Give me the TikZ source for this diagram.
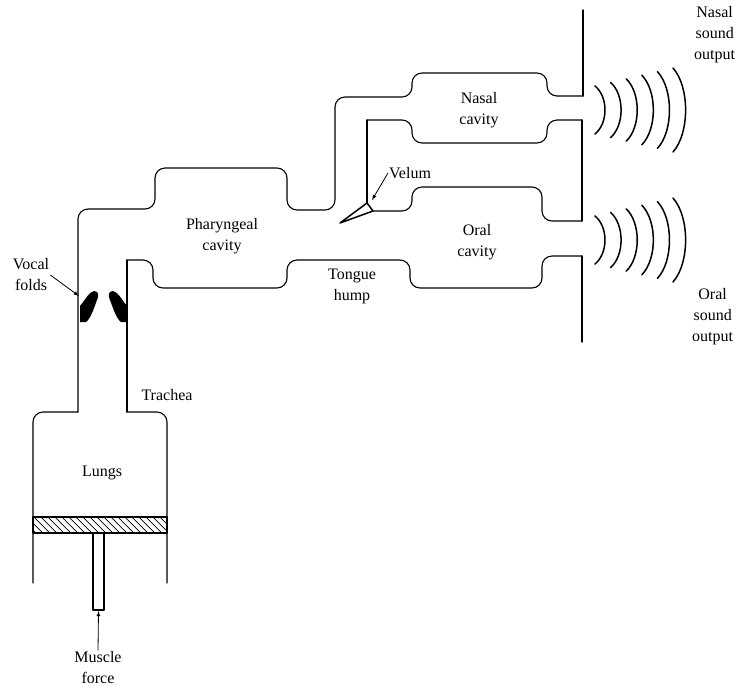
\documentclass[tikz,border=0pt]{standalone}
\usepackage{fontspec}
\setmainfont{Liberation Serif}

\begin{document}
\begin{tikzpicture}[x=1pt,y=-1pt,>=latex,
	wall/.style={line width=1.1pt,line cap=round,line join=round},
	wave/.style={line width=1.5pt,line cap=round},
	txt/.style={font=\fontsize{16}{21}\selectfont,align=center,inner sep=1pt}]

		\useasboundingbox (0,0) rectangle (738,686);

		% lungs and upper wall
		\draw[wall,rounded corners=10pt] (33,583) -- (33,412) -- (78,412);
		\draw[wall,rounded corners=10pt] (78,412) -- (78,209) -- ++(77,0) -- ++(0,-41) -- ++(132,0)
			-- ++(0,42) -- ++(48,0) -- ++(0,-113) -- ++(77,0) -- ++(0,-24) -- ++(135,0) -- ++(0,23) -- (583,96);
		\draw[wall] (583,96) -- (583,10);

		% lower wall
		\draw[wall,rounded corners=10pt] (167,583) -- (167,412) -- (127,412);
		\draw[wall] (127,412) -- (127,260);
		\draw[wall,rounded corners=10pt] (127,260) -- (153,260) -- ++(0,28) -- ++(134,0) -- ++(0,-28)
			-- ++(123,0) -- ++(0,28) -- ++(132,0) -- ++(0,-32) -- (582,256);
		\draw[wall] (582,256) -- (582,342);

		% wall between nasal and oral tract
		\draw[wall] (367,203) -- (367,120);
		\draw[wall,rounded corners=10pt] (367,120) -- (412,120) -- ++(0,23) -- ++(135,0) -- ++(0,-23) -- (582,120);
		\draw[wall] (582,120) -- (582,221);
		\draw[wall,rounded corners=10pt] (582,221) -- (542,221) -- ++(0,-34) -- ++(-130,0) -- ++(0,24) -- (373,211);

		% velum
		\draw[wall,line width=1.5pt] (340,223) -- (367,203) -- (373,211) -- cycle;
		\coordinate (V) at (372,200);

		% vocal folds
		\fill (80,306) .. controls (85,300) and (89,292) .. (94,291) .. controls (99,291) and (99,296) .. (97,300)
			.. controls (94,308) and (91,318) .. (86,322) -- (80,322) -- cycle;
		\fill (127,306) .. controls (122,300) and (118,292) .. (113,291) .. controls (108,291) and (108,296) .. (110,300)
			.. controls (113,308) and (116,318) .. (121,322) -- (127,322) -- cycle;
		\coordinate (F) at (79,296);

		% piston
		\begin{scope}
			\clip (33,517) rectangle (167,533);
			\foreach \x in {20,27,...,170}
				\draw[line width=0.7pt] (\x,517) -- ++(16,16);
		\end{scope}
		\draw[wall] (33,517) rectangle (167,533);
		\draw[wall] (93,533) rectangle (104,610);
		\coordinate (R) at (98.5,611);

		% sound waves
		\foreach \i [evaluate=\i as \xa using 595+15.6*\i, evaluate=\i as \h using 24+3.6*\i,
			evaluate=\i as \b using 13.3+0.7*\i] in {0,...,5}
			\foreach \c in {110,240}
				\draw[wave] (\xa,\c-\h) .. controls (\xa+\b,\c-0.55*\h) and (\xa+\b,\c+0.55*\h) .. (\xa,\c+\h);

		\node[txt] (nasal) at (479,110) {Nasal\\cavity};
		\node[txt] (oral) at (477,242) {Oral\\cavity};
		\node[txt] (phar) at (222,236) {Pharyngeal\\cavity};
		\node[txt] (tongue) at (352,286) {Tongue\\hump};
		\node[txt,anchor=west] (velum) at (388,173) {Velum};
		\node[txt] (folds) at (31,275) {Vocal\\folds};
		\node[txt] (trachea) at (167,395) {Trachea};
		\node[txt] (lungs) at (102,473) {Lungs};
		\node[txt] (force) at (98,668) {Muscle\\force};
		\node[txt,anchor=west] (nasalout) at (693,35) {Nasal\\sound\\output};
		\node[txt,anchor=west] (oralout) at (691,317) {Oral\\sound\\output};

		\draw[->,line width=0.8pt] (velum.west) -- (V);
		\draw[->,line width=0.8pt] (folds.east) -- (F);
		\draw[->,line width=0.8pt] (force.north) -- (R);
	\end{tikzpicture}
\end{document}
